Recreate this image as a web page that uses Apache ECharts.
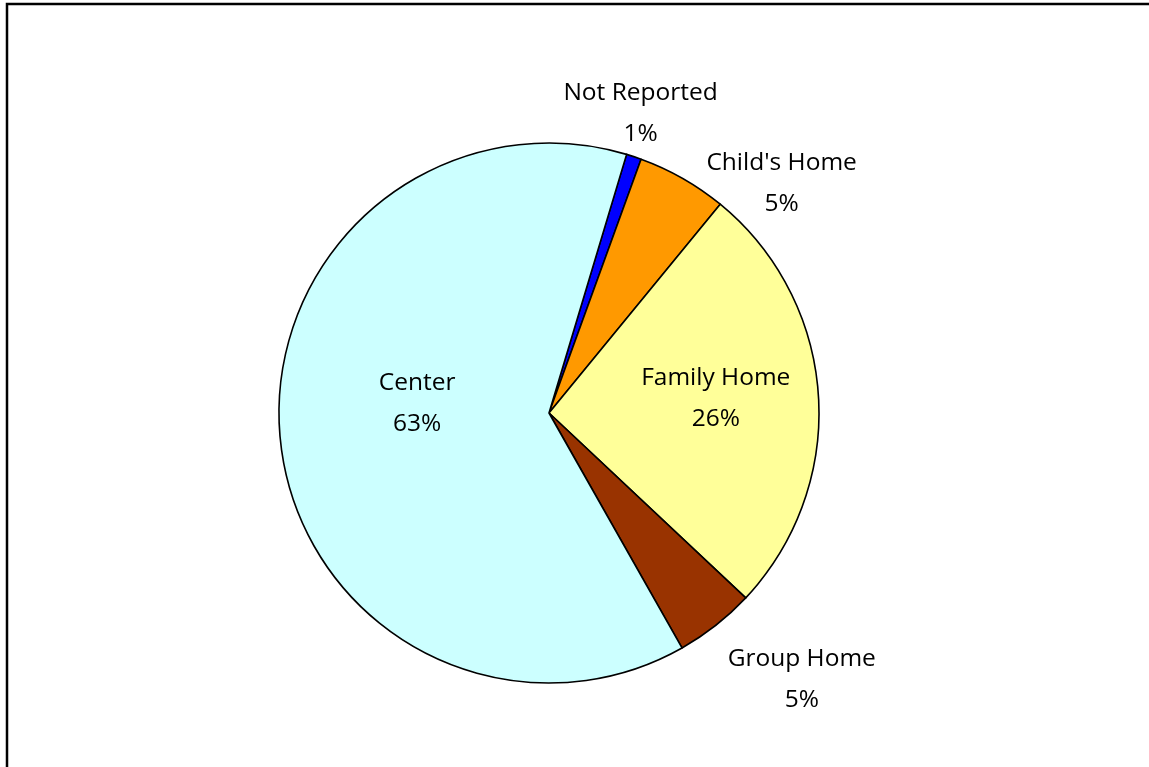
<!DOCTYPE html>
<html>
<head>
<meta charset="utf-8">
<script src="https://cdn.jsdelivr.net/npm/echarts@6/dist/echarts.min.js"></script>
<style>
html,body{margin:0;padding:0;background:#fff;}
#chart{width:1149px;height:767px;}
</style>
</head>
<body>
<div id="chart"></div>
<script>
// Data
const categories = ["Not Reported", "Child's Home", "Family Home", "Group Home", "Center"];
const values = [0.9, 5.4, 26.1, 4.8, 62.9];
const colors = ["#0000FF", "#FF9900", "#FFFF99", "#993300", "#CCFFFF"];
// label placement (polar: radius factor, angle in degrees clockwise from 12 o'clock)
const labelRadius = [1.16, 1.21, 0.62, 1.36, 0.49];
const labelAngle = [17, 45.4, 85, 136.5, 274.3];

const cx = 549, cy = 413, R = 270;

const chart = echarts.init(document.getElementById('chart'), null, {renderer: 'canvas'});
const total = values.reduce((a, b) => a + b, 0);

chart.setOption({
  backgroundColor: '#ffffff',
  animation: false,
  graphic: [
    {type: 'polyline', shape: {points: [[7, 790], [7, 4], [1160, 4]]}, style: {stroke: '#000', lineWidth: 2.5, fill: null}}
  ],
  series: [{
    type: 'pie',
    center: [cx, cy],
    radius: [0, R],
    startAngle: 90 - 16.7,
    clockwise: true,
    avoidLabelOverlap: false,
    data: categories.map((c, i) => ({name: c, value: values[i], itemStyle: {color: colors[i]}})),
    itemStyle: {borderColor: '#000', borderWidth: 1.6},
    label: {
      show: true,
      position: 'outside',
      formatter: p => p.name + '\n' + Math.round(p.value / total * 100) + '%',
      fontFamily: 'Open Sans',
      fontSize: 24.5,
      lineHeight: 41,
      color: '#000',
      align: 'center'
    },
    labelLine: {show: false},
    labelLayout: function (p) {
      const i = p.dataIndex;
      const a = labelAngle[i] * Math.PI / 180;
      const r = labelRadius[i] * R;
      return {
        x: cx + r * Math.sin(a),
        y: cy - r * Math.cos(a),
        align: 'center',
        verticalAlign: 'middle'
      };
    },
    emphasis: {disabled: true}
  }]
});
</script>
</body>
</html>
